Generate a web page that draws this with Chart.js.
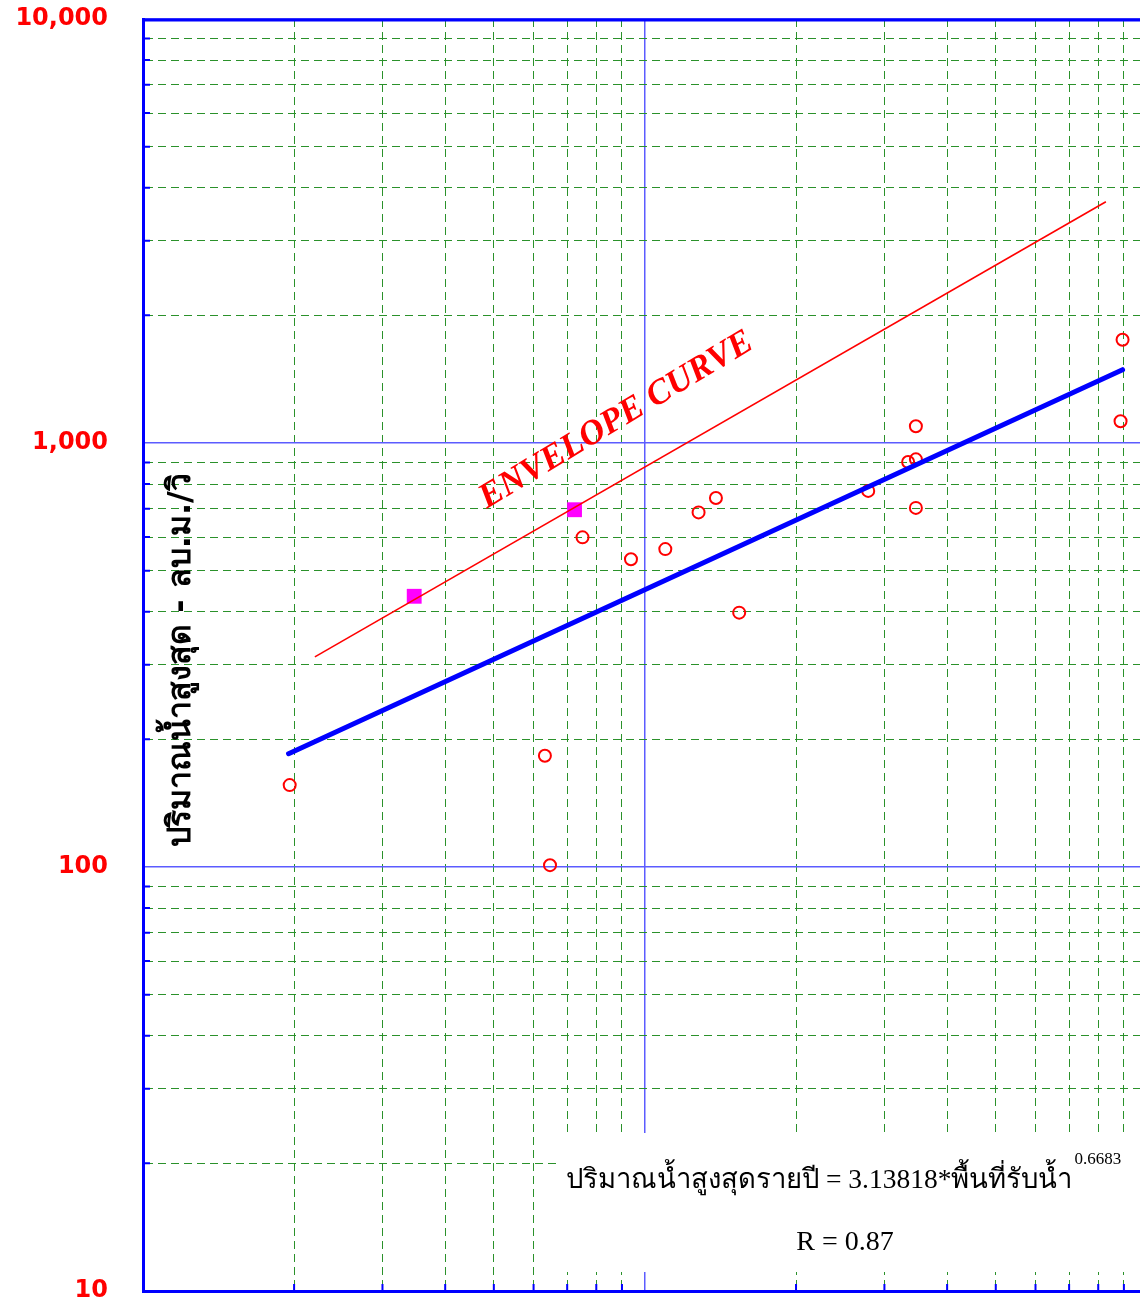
<!DOCTYPE html>
<html lang="th">
<head>
  <meta charset="UTF-8">
  <title>Envelope Curve</title>
  <script src="https://cdn.jsdelivr.net/npm/chart.js"></script>
  <style>
    body {
      margin: 0;
      background: #fff;
      overflow: hidden;
    }
    canvas {
      display: block;
    }
  </style>
</head>
<body>
  <canvas id="peakChart" width="1140" height="1304"></canvas>

  <script>
    // stations: catchment area (sq.km) vs annual peak flow (m3/s)
    const stationArea = [196, 632, 647, 751, 938, 1098, 1279, 1385, 1541, 2785, 3345, 3466, 3466, 3466, 8863, 8945];
    const stationFlow = [156, 183, 101, 599, 532, 562, 686, 742, 398, 771, 902, 915, 1095, 703, 1125, 1752];

    // regression line ends
    const fitArea = [195, 8945];
    const fitFlow = [185, 1489];

    // envelope curve ends + the two stations it passes through
    const envArea = [220, 8286];
    const envFlow = [313, 3707];
    const envPointArea = [347, 724];
    const envPointFlow = [435, 696];

    // axes (the plot is cut off just before 10,000 on the right)
    const xMin = 100;
    const xMax = 9690;
    const xDecades = [100, 1000];
    const yDecades = [10, 100, 1000];
    const mantissas = [1, 2, 3, 4, 5, 6, 7, 8, 9];
    const yMajor = [10, 100, 1000, 10000];
    const yTickLabels = ['10', '100', '1,000', '10,000'];

    const yTitle = 'ปริมาณน้ำสูงสุด - ลบ.ม./วิ';
    const eqText = 'ปริมาณน้ำสูงสุดรายปี = 3.13818*พื้นที่รับน้ำ';
    const eqPower = '0.6683';
    const rText = 'R = 0.87';
    const envText = 'ENVELOPE CURVE';

    const BLUE = '#0000ff';
    const GRID_BLUE = '#5c5cff';
    const GRID_GREEN = '#2b912b';

    function decadeTicks(decades, last) {
      const out = [];
      decades.forEach(d => mantissas.forEach(m => out.push(d * m)));
      out.push(last);
      return out;
    }
    const xTicks = decadeTicks(xDecades, 10000).filter(v => v <= xMax);
    const yTicks = decadeTicks(yDecades, 10000);

    function isMajor(v) {
      const l = Math.log10(v);
      return Math.abs(l - Math.round(l)) < 1e-9;
    }

    function pairs(xs, ys) {
      return xs.map((v, i) => ({ x: v, y: ys[i] }));
    }

    const gridColor = ctx => (ctx.tick && isMajor(ctx.tick.value)) ? GRID_BLUE : GRID_GREEN;
    const gridWidth = ctx => (ctx.tick && isMajor(ctx.tick.value)) ? 1.5 : 1;
    const gridDash = ctx => (ctx.tick && !isMajor(ctx.tick.value)) ? [8, 5] : [];

    // frame top, small inside ticks, text box and annotations
    const decorations = {
      id: 'decorations',
      beforeDatasetsDraw(chart) {
        const { ctx, chartArea: a, scales: { x, y } } = chart;
        ctx.save();

        // white box behind the equation
        ctx.fillStyle = '#fff';
        ctx.fillRect(557, 1133, a.right - 557, 139);

        ctx.strokeStyle = BLUE;
        ctx.lineWidth = 3;
        ctx.beginPath();
        ctx.moveTo(a.left, a.top + 1);
        ctx.lineTo(a.right, a.top + 1);
        ctx.stroke();

        ctx.lineWidth = 2;
        ctx.beginPath();
        yTicks.forEach(v => {
          if (isMajor(v)) return;
          const py = y.getPixelForValue(v);
          ctx.moveTo(a.left, py);
          ctx.lineTo(a.left + 7, py);
        });
        xTicks.forEach(v => {
          if (isMajor(v)) return;
          const px = x.getPixelForValue(v);
          ctx.moveTo(px, a.bottom);
          ctx.lineTo(px, a.bottom - 7);
        });
        ctx.stroke();
        ctx.restore();
      },
      afterDatasetsDraw(chart) {
        const { ctx } = chart;
        ctx.save();

        // y title, drawn inside the plot
        ctx.translate(182, 660);
        ctx.rotate(-Math.PI / 2);
        ctx.fillStyle = '#000';
        ctx.font = 'bold 32px Tahoma, "DejaVu Sans", sans-serif';
        ctx.textAlign = 'center';
        ctx.textBaseline = 'middle';
        ctx.fillText(yTitle, 0, 0);
        ctx.restore();

        ctx.save();
        ctx.translate(621, 428);
        ctx.rotate(-31 * Math.PI / 180);
        ctx.fillStyle = '#ff0000';
        ctx.font = 'italic bold 35px "Liberation Serif", "Times New Roman", serif';
        ctx.textAlign = 'center';
        ctx.textBaseline = 'alphabetic';
        ctx.fillText(envText, 0, 0);
        ctx.restore();

        ctx.save();
        ctx.fillStyle = '#000';
        ctx.font = '27.5px "Liberation Serif", "Times New Roman", serif';
        ctx.textAlign = 'left';
        ctx.textBaseline = 'alphabetic';
        ctx.fillText(eqText, 566, 1188);
        const w = ctx.measureText(eqText).width;
        ctx.font = '17px "Liberation Serif", "Times New Roman", serif';
        ctx.fillText(eqPower, 566 + w + 2, 1164);
        ctx.font = '28px "Liberation Serif", "Times New Roman", serif';
        ctx.textAlign = 'center';
        ctx.fillText(rText, 845, 1250);
        ctx.restore();
      }
    };

    const ctx = document.getElementById('peakChart').getContext('2d');
    const chart = new Chart(ctx, {
      data: {
        datasets: [
          {
            type: 'line',
            label: 'Regression',
            data: pairs(fitArea, fitFlow),
            borderColor: BLUE,
            borderWidth: 5,
            borderCapStyle: 'round',
            pointRadius: 0
          },
          {
            type: 'line',
            label: 'Envelope',
            data: pairs(envArea, envFlow),
            borderColor: '#ff0000',
            borderWidth: 1.6,
            pointRadius: 0
          },
          {
            type: 'scatter',
            label: 'Envelope stations',
            data: pairs(envPointArea, envPointFlow),
            pointStyle: 'rect',
            pointRadius: 10.5,
            borderWidth: 0,
            backgroundColor: '#ff00ff'
          },
          {
            type: 'scatter',
            label: 'Stations',
            data: pairs(stationArea, stationFlow),
            pointStyle: 'circle',
            pointRadius: 6,
            borderWidth: 2,
            borderColor: '#ff0000',
            backgroundColor: 'rgba(255,255,255,0)'
          }
        ]
      },
      options: {
        responsive: false,
        animation: false,
        layout: { autoPadding: false, padding: { top: 19, bottom: 13, left: 0, right: 0 } },
        plugins: {
          legend: { display: false },
          tooltip: { enabled: false }
        },
        scales: {
          x: {
            type: 'logarithmic',
            position: 'bottom',
            min: xMin,
            max: xMax,
            afterBuildTicks: scale => { scale.ticks = xTicks.map(v => ({ value: v })); },
            afterFit: scale => {
              scale.height = 0;
              scale.paddingLeft = 0;
              scale.paddingRight = 0;
            },
            ticks: { display: false },
            grid: { color: gridColor, lineWidth: gridWidth, drawTicks: false },
            border: { display: true, color: BLUE, width: 3, dash: gridDash }
          },
          y: {
            type: 'logarithmic',
            min: 10,
            max: 10000,
            afterBuildTicks: scale => { scale.ticks = yTicks.map(v => ({ value: v })); },
            afterFit: scale => {
              scale.width = 143;
              scale.paddingTop = 0;
              scale.paddingBottom = 0;
            },
            ticks: {
              padding: 35,
              color: '#ff0000',
              font: { family: '"DejaVu Sans", Verdana, sans-serif', size: 24, weight: 'bold', lineHeight: 1 },
              autoSkip: false,
              callback: value => {
                const i = yMajor.indexOf(value);
                return i >= 0 ? yTickLabels[i] : '';
              }
            },
            grid: { color: gridColor, lineWidth: gridWidth, drawTicks: false },
            border: { display: true, color: BLUE, width: 3, dash: gridDash }
          }
        }
      },
      plugins: [decorations]
    });
  </script>
</body>
</html>
